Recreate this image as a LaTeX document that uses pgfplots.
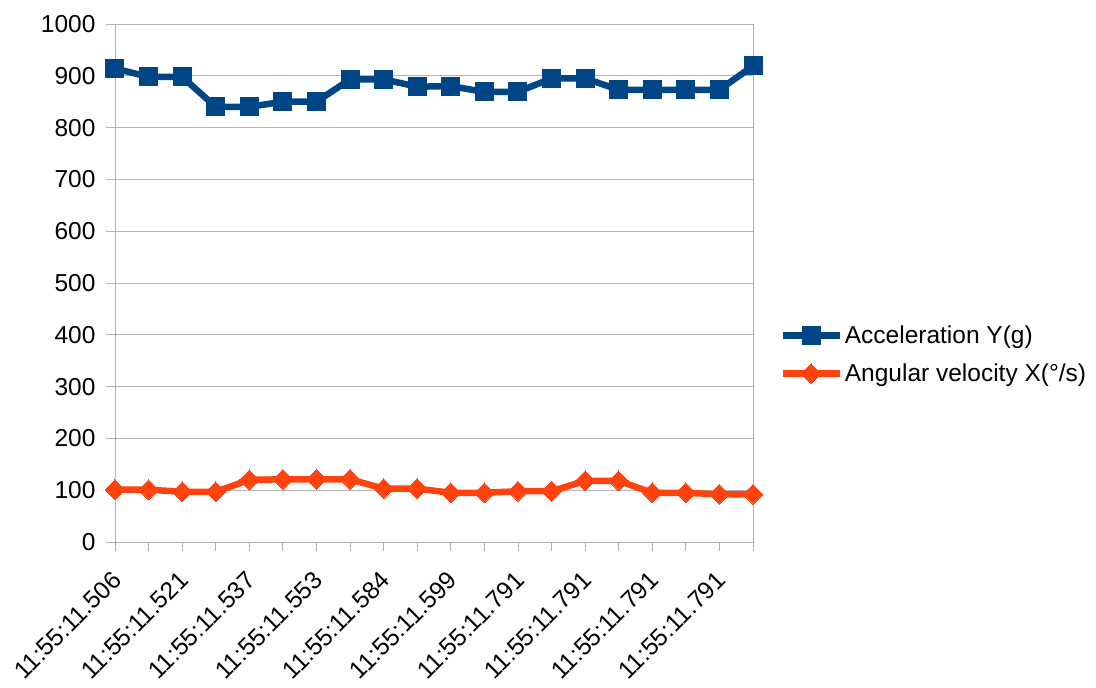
\documentclass[border=0pt]{standalone}
\usepackage{pgfplots}
\pgfplotsset{compat=1.18}
\usepackage{fontspec}
\setmainfont{Liberation Sans}

\definecolor{accblue}{HTML}{004586}
\definecolor{angorange}{HTML}{FF420E}
\definecolor{gridgray}{HTML}{B3B3B3}

\pgfplotstableread{
idx  acc  ang
0    914  101
1    898  101
2    898  97
3    840  97
4    840  120
5    850  121
6    850  121
7    893  121
8    893  103
9    879  103
10   880  95
11   869  95
12   869  98
13   895  98
14   895  118
15   873  118
16   873  95
17   873  95
18   873  92
19   919  92
}\sensordata

\begin{document}
\begin{tikzpicture}
\path[use as bounding box] (-115bp,-146bp) rectangle (981bp,542bp);
\begin{axis}[
  scale only axis,
  width=638bp, height=518bp,
  xmin=0, xmax=19, ymin=0, ymax=1000,
  axis line style={gridgray},
  every tick/.style={gridgray, line width=0.8bp},
  tick align=outside,
  major tick length=9bp,
  xtick={0,...,19},
  xticklabels={11:55:11.506,,11:55:11.521,,11:55:11.537,,11:55:11.553,,11:55:11.584,,11:55:11.599,,11:55:11.791,,11:55:11.791,,11:55:11.791,,11:55:11.791,},
  ytick={0,100,...,1000},
  xtick pos=bottom, ytick pos=left,
  ymajorgrids,
  grid style={gridgray, line width=0.8bp},
  tick label style={font=\fontsize{24.5bp}{29bp}\selectfont, black},
  /pgf/number format/assume math mode=true,
  /pgf/number format/1000 sep={},
  xticklabel style={rotate=45, anchor=east, xshift=-13bp, yshift=-19bp},
  yticklabel style={xshift=-7bp},
  legend style={
    at={(1.041,0.362)}, anchor=west,
    draw=none, fill=none, inner sep=0pt,
    font=\fontsize{24.5bp}{29bp}\selectfont,
    row sep=15bp,
    legend cell align=left,
  },
  legend image code/.code={
    \draw[mark repeat=2, mark phase=2] plot coordinates {(0bp,0bp) (28.5bp,0bp) (57bp,0bp)};
  },
]
\addplot[accblue, line width=6.5bp, mark=square*, mark size=9bp,
  mark options={solid, line width=0bp}] table[x=idx, y=acc] {\sensordata};
\addlegendentry{Acceleration Y(g)}
\addplot[angorange, line width=6.5bp, mark=square*, mark size=7bp,
  mark options={solid, rotate=45, line width=0bp}] table[x=idx, y=ang] {\sensordata};
\addlegendentry{Angular velocity X(°/s)}
\end{axis}
\end{tikzpicture}
\end{document}
